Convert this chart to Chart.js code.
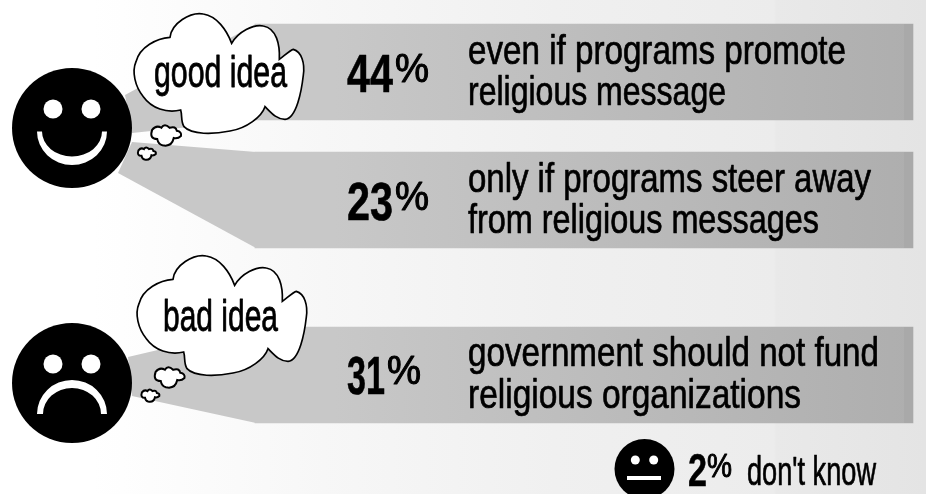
<!DOCTYPE html>
<html>
<head>
<meta charset="utf-8">
<title>Government funding of religious organizations</title>
<script src="https://cdn.jsdelivr.net/npm/chart.js@4"></script>
<style>
  html, body { margin: 0; padding: 0; width: 926px; height: 494px; overflow: hidden; }
  body { background: linear-gradient(90deg, #ffffff 0%, #ffffff 10%, #f7f7f7 35%, #f0f0f0 60%, #ececec 83.6%, #e9e9e9 83.8%, #e4e4e4 100%); }
  canvas { display: block; }
</style>
</head>
<body>
<canvas id="ideaChart" width="926" height="494"></canvas>
<script>
// answers, top to bottom
const categories = ['good idea, promote', 'good idea, steer away', 'bad idea'];
const shares = [44, 23, 31];
const dontKnowShare = 2;
const answerLines = [
  ['even if programs promote', 'religious message'],
  ['only if programs steer away', 'from religious messages'],
  ['government should not fund', 'religious organizations']
];
const cloudLabels = ['good idea', 'bad idea'];
const dontKnowLabel = "don't know";

// layout, in canvas units
const bandStart = 255, bandEnd = 913, bandHeight = 96;
const bandMiddles = [72, 200, 375];
const numberX = 347;
const numberWidths = [46, 46, 38];
const percentX = [395, 395, 387];
const percentWidth = 34;
const lineX = 468;
const lineWidths = [[378, 258], [403, 351], [411, 333]];
const lineBaselines = [[64, 105], [192, 233], [366, 408]];
const numberBaselines = [92, 220, 394];
// where each band's funnel meets the face: [top edge point, bottom edge point]
const funnelTips = [[[125, 95], [132, 133]], [[132, 142], [118, 173]], [[128, 357], [132, 396]]];

const bodyFont = '"Liberation Sans Narrow", "Liberation Sans", sans-serif';

// draws text squeezed or stretched to an exact width, thickened by a stroke
function fitText(ctx, text, x, y, width, font, weight) {
  ctx.save();
  ctx.font = font;
  const w = ctx.measureText(text).width;
  ctx.translate(x, y);
  ctx.scale(width / w, 1);
  ctx.fillText(text, 0, 0);
  if (weight) {
    ctx.lineWidth = weight;
    ctx.lineJoin = 'round';
    ctx.strokeStyle = '#000';
    ctx.strokeText(text, 0, 0);
  }
  ctx.restore();
}

function bigCloud(ctx, dx, dy) {
  ctx.save();
  ctx.translate(dx, dy);
  ctx.scale(1 / 3, 1 / 3);
  ctx.beginPath();
  ctx.moveTo(510, 112);
  ctx.bezierCurveTo(515, 70, 570, 35, 610, 42);
  ctx.bezierCurveTo(650, 48, 680, 90, 695, 130);
  ctx.bezierCurveTo(715, 95, 760, 72, 790, 78);
  ctx.bezierCurveTo(830, 85, 840, 135, 838, 178);
  ctx.bezierCurveTo(850, 170, 870, 150, 880, 148);
  ctx.bezierCurveTo(905, 155, 915, 190, 910, 225);
  ctx.bezierCurveTo(905, 270, 890, 355, 855, 358);
  ctx.bezierCurveTo(830, 358, 815, 340, 795, 320);
  ctx.bezierCurveTo(785, 350, 740, 385, 690, 393);
  ctx.bezierCurveTo(640, 403, 575, 405, 552, 380);
  ctx.bezierCurveTo(542, 365, 547, 345, 542, 330);
  ctx.bezierCurveTo(500, 340, 455, 325, 430, 290);
  ctx.bezierCurveTo(405, 260, 395, 215, 408, 185);
  ctx.bezierCurveTo(420, 140, 470, 115, 510, 112);
  ctx.closePath();
  ctx.fillStyle = '#fff';
  ctx.fill();
  ctx.lineWidth = 5;
  ctx.strokeStyle = '#000';
  ctx.stroke();
  ctx.restore();
}

// little thought puff, centred on cx, cy
function puff(ctx, cx, cy, s) {
  ctx.save();
  ctx.translate(cx, cy);
  ctx.scale(s, s);
  ctx.beginPath();
  ctx.moveTo(-13, -6);
  ctx.quadraticCurveTo(-9, -11, -4, -8);
  ctx.quadraticCurveTo(-1, -13, 4, -8);
  ctx.quadraticCurveTo(10, -10, 11, -5);
  ctx.quadraticCurveTo(16, -4, 15, 0);
  ctx.quadraticCurveTo(12, 3, 8, 2);
  ctx.quadraticCurveTo(6, 11, -3, 9);
  ctx.quadraticCurveTo(-7, 8, -8, 3);
  ctx.quadraticCurveTo(-16, 3, -13, -6);
  ctx.closePath();
  ctx.fillStyle = '#fff';
  ctx.fill();
  ctx.lineWidth = 2 / s;
  ctx.strokeStyle = '#000';
  ctx.stroke();
  ctx.restore();
}

function faceBase(ctx, cx, cy, r, eyeDx, eyeDy, eyeR) {
  ctx.fillStyle = '#000';
  ctx.beginPath();
  ctx.arc(cx, cy, r, 0, Math.PI * 2);
  ctx.fill();
  ctx.fillStyle = '#fff';
  [-eyeDx, eyeDx].forEach(dx => {
    ctx.beginPath();
    ctx.arc(cx + dx, cy + eyeDy, eyeR, 0, Math.PI * 2);
    ctx.fill();
  });
}

// crescent mouth: up = false is a smile, up = true a frown
function mouth(ctx, cx, y, rx, ry, inRx, inRy, up) {
  ctx.fillStyle = '#fff';
  ctx.beginPath();
  if (up) {
    ctx.ellipse(cx, y, rx, ry, 0, Math.PI, 0);
    ctx.lineTo(cx + inRx, y);
    ctx.ellipse(cx, y, inRx, inRy, 0, 0, Math.PI, true);
  } else {
    ctx.ellipse(cx, y, rx, ry, 0, Math.PI, 0, true);
    ctx.lineTo(cx + inRx, y);
    ctx.ellipse(cx, y, inRx, inRy, 0, 0, Math.PI);
  }
  ctx.closePath();
  ctx.fill();
}

const funnelPlugin = {
  id: 'funnels',
  beforeDatasetsDraw(chart) {
    const ctx = chart.ctx;
    const bars = chart.getDatasetMeta(0).data;
    const x = chart.scales.x, y = chart.scales.y;
    ctx.save();
    ctx.fillStyle = '#c8c8c8';
    bars.forEach((bar, i) => {
      const top = bar.y - bandHeight / 2, bottom = bar.y + bandHeight / 2;
      const left = x.getPixelForValue(bandStart) + 1;
      ctx.beginPath();
      ctx.moveTo(left, top);
      ctx.lineTo(x.getPixelForValue(funnelTips[i][0][0]), y.getPixelForValue(funnelTips[i][0][1]));
      ctx.lineTo(x.getPixelForValue(funnelTips[i][1][0]), y.getPixelForValue(funnelTips[i][1][1]));
      ctx.lineTo(left, bottom);
      ctx.closePath();
      ctx.fill();
    });
    ctx.restore();
  }
};

const annotationPlugin = {
  id: 'faces',
  afterDatasetsDraw(chart) {
    const ctx = chart.ctx;
    ctx.save();

    // darker strip closing the right end of each band
    ctx.fillStyle = '#a9a9a9';
    chart.getDatasetMeta(0).data.forEach(bar => {
      ctx.fillRect(904, bar.y - bandHeight / 2, bandEnd - 904, bandHeight);
    });

    faceBase(ctx, 72, 128, 60, 19, -19, 9.5);
    mouth(ctx, 72, 131.5, 35, 33.5, 30, 25, false);
    faceBase(ctx, 72, 383, 60, 19, -19, 9.5);
    mouth(ctx, 72, 414, 35, 34, 29, 26, true);
    faceBase(ctx, 644.5, 469, 30, 9.2, -9, 4.5);
    ctx.fillStyle = '#fff';
    ctx.fillRect(627, 476, 34, 4);

    bigCloud(ctx, 0, 0);
    bigCloud(ctx, 3, 242);
    puff(ctx, 165.5, 136, 1.03);
    puff(ctx, 146.5, 154, 0.62);
    puff(ctx, 169, 378, 1.03);
    puff(ctx, 150, 396, 0.62);

    ctx.fillStyle = '#000';
    ctx.textBaseline = 'alphabetic';
    fitText(ctx, cloudLabels[0], 154, 87, 133, '45px ' + bodyFont, 0.8);
    fitText(ctx, cloudLabels[1], 163, 331, 115, '45px ' + bodyFont, 0.8);

    shares.forEach((share, i) => {
      fitText(ctx, String(share), numberX, numberBaselines[i], numberWidths[i], 'bold 54px ' + bodyFont, 0.6);
      fitText(ctx, '%', percentX[i], numberBaselines[i] - 10, percentWidth, '41px ' + bodyFont, 1.1);
      answerLines[i].forEach((line, j) => {
        fitText(ctx, line, lineX, lineBaselines[i][j], lineWidths[i][j], '41px ' + bodyFont, 0.7);
      });
    });

    fitText(ctx, String(dontKnowShare), 688, 486, 19, 'bold 46px ' + bodyFont, 0.5);
    fitText(ctx, '%', 707, 477, 25, '34px ' + bodyFont, 1);
    fitText(ctx, dontKnowLabel, 747, 485, 129, '40px ' + bodyFont, 0.7);

    ctx.restore();
  }
};

new Chart(document.getElementById('ideaChart'), {
  type: 'bar',
  data: {
    labels: categories,
    datasets: [{
      data: categories.map((c, i) => ({ x: [bandStart, bandEnd], y: bandMiddles[i], share: shares[i] })),
      barThickness: bandHeight,
      borderWidth: 0,
      backgroundColor(context) {
        const area = context.chart.chartArea;
        if (!area) return '#bbb';
        const g = context.chart.ctx.createLinearGradient(bandStart, 0, bandEnd, 0);
        g.addColorStop(0, '#c8c8c8');
        g.addColorStop(0.12, '#c8c8c8');
        g.addColorStop(1, '#aeaeae');
        return g;
      }
    }]
  },
  options: {
    indexAxis: 'y',
    responsive: false,
    animation: false,
    layout: { padding: 0 },
    plugins: { legend: { display: false }, tooltip: { enabled: false } },
    scales: {
      x: { type: 'linear', min: 0, max: 926, display: false },
      y: { type: 'linear', min: 0, max: 494, reverse: true, offset: false, display: false }
    }
  },
  plugins: [funnelPlugin, annotationPlugin]
});
</script>
</body>
</html>
